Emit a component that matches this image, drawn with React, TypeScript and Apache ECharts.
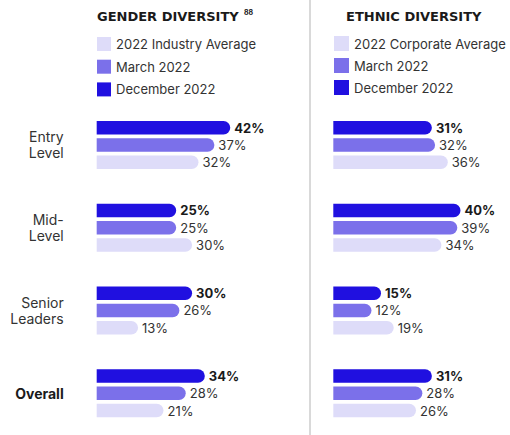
import React, { useEffect, useRef } from "react";
import * as echarts from "echarts";

const categories = ["Entry\nLevel", "Mid-\nLevel", "Senior\nLeaders", "Overall"];
const genderDec = [42, 25, 30, 34];
const genderMar = [37, 25, 26, 28];
const genderInd = [32, 30, 13, 21];
const ethnicDec = [31, 40, 15, 31];
const ethnicMar = [32, 39, 12, 28];
const ethnicCorp = [36, 34, 19, 26];

const DARK = "#2010e0";
const MID = "#7b70ea";
const LIGHT = "#dedcf9";
const FONT = 'Inter, "Open Sans", sans-serif';
const TITLE_FONT = '"DejaVu Sans", Inter, sans-serif';

function barSeries(name: string, data: number[], color: string, idx: number, bold: boolean) {
  return {
    type: "bar",
    name,
    data,
    xAxisIndex: idx,
    yAxisIndex: idx,
    barWidth: 13.5,
    barGap: "28%",
    itemStyle: { color, borderRadius: [0, 7, 7, 0] },
    label: {
      show: true,
      position: "right",
      distance: 4,
      formatter: "{c}%",
      fontFamily: FONT,
      fontSize: 13,
      fontWeight: bold ? "bold" : "normal",
      color: bold ? "#1a1a1a" : "#333",
    },
  };
}

export default function App() {
  const ref = useRef<HTMLDivElement>(null);
  useEffect(() => {
    const chart = echarts.init(ref.current!, undefined, { renderer: "svg" });
    const gridTop = 103.6;
    const gridH = 331;
    chart.setOption({
      animation: false,
      textStyle: { fontFamily: FONT },
      title: [
        {
          text: "GENDER DIVERSITY",
          left: 97,
          top: 9.5,
          padding: 0,
          textStyle: { fontSize: 13, fontWeight: "bold", color: "#1a1a1a", fontFamily: TITLE_FONT },
        },
        {
          text: "ETHNIC DIVERSITY",
          left: 346,
          top: 9.5,
          padding: 0,
          textStyle: { fontSize: 13, fontWeight: "bold", color: "#1a1a1a", fontFamily: TITLE_FONT },
        },
      ],
      legend: [
        {
          orient: "vertical",
          left: 97,
          top: 37,
          padding: 0,
          itemWidth: 14,
          itemHeight: 14,
          itemGap: 8.7,
          icon: "rect",
          selectedMode: false,
          data: ["2022 Industry Average", "March 2022", "December 2022"],
          textStyle: { fontSize: 13, color: "#333", fontFamily: FONT },
        },
        {
          orient: "vertical",
          left: 334,
          top: 36,
          padding: 0,
          itemWidth: 15,
          itemHeight: 15,
          itemGap: 7,
          icon: "rect",
          selectedMode: false,
          data: ["2022 Corporate Average", "March 2022", "December 2022"],
          textStyle: { fontSize: 13, color: "#333", fontFamily: FONT },
        },
      ],
      graphic: [
        {
          type: "line",
          shape: { x1: 310, y1: 0, x2: 310, y2: 435 },
          style: { stroke: "#d9d9d9", lineWidth: 2 },
        },
        {
          type: "text",
          x: 244,
          y: 9,
          style: { text: "88", fontSize: 7, fontWeight: "bold", fill: "#1a1a1a", fontFamily: FONT },
        },
      ],
      grid: [
        { left: 96.7, top: gridTop, width: 159, height: gridH },
        { left: 333.3, top: gridTop, width: 159, height: gridH },
      ],
      xAxis: [
        { type: "value", gridIndex: 0, min: 0, max: 50, show: false },
        { type: "value", gridIndex: 1, min: 0, max: 50, show: false },
      ],
      yAxis: [
        {
          type: "category",
          gridIndex: 0,
          inverse: true,
          data: categories,
          axisLine: { show: false },
          axisTick: { show: false },
          axisLabel: {
            margin: 33,
            fontFamily: FONT,
            fontSize: 14,
            lineHeight: 16,
            color: "#333",
            formatter: (v: string) => (v === "Overall" ? "{b|" + v + "}" : v),
            rich: { b: { fontWeight: "bold", fontSize: 14, color: "#1a1a1a", fontFamily: FONT } },
          },
        },
        {
          type: "category",
          gridIndex: 1,
          inverse: true,
          data: categories,
          show: false,
        },
      ],
      series: [
        barSeries("December 2022", genderDec, DARK, 0, true),
        barSeries("March 2022", genderMar, MID, 0, false),
        barSeries("2022 Industry Average", genderInd, LIGHT, 0, false),
        barSeries("December 2022", ethnicDec, DARK, 1, true),
        barSeries("March 2022", ethnicMar, MID, 1, false),
        barSeries("2022 Corporate Average", ethnicCorp, LIGHT, 1, false),
      ],
    });
    return () => chart.dispose();
  }, []);
  return (
    <div
      ref={ref}
      style={{ position: "fixed", left: 0, top: 0, width: 510, height: 435, background: "#fff" }}
    />
  );
}
